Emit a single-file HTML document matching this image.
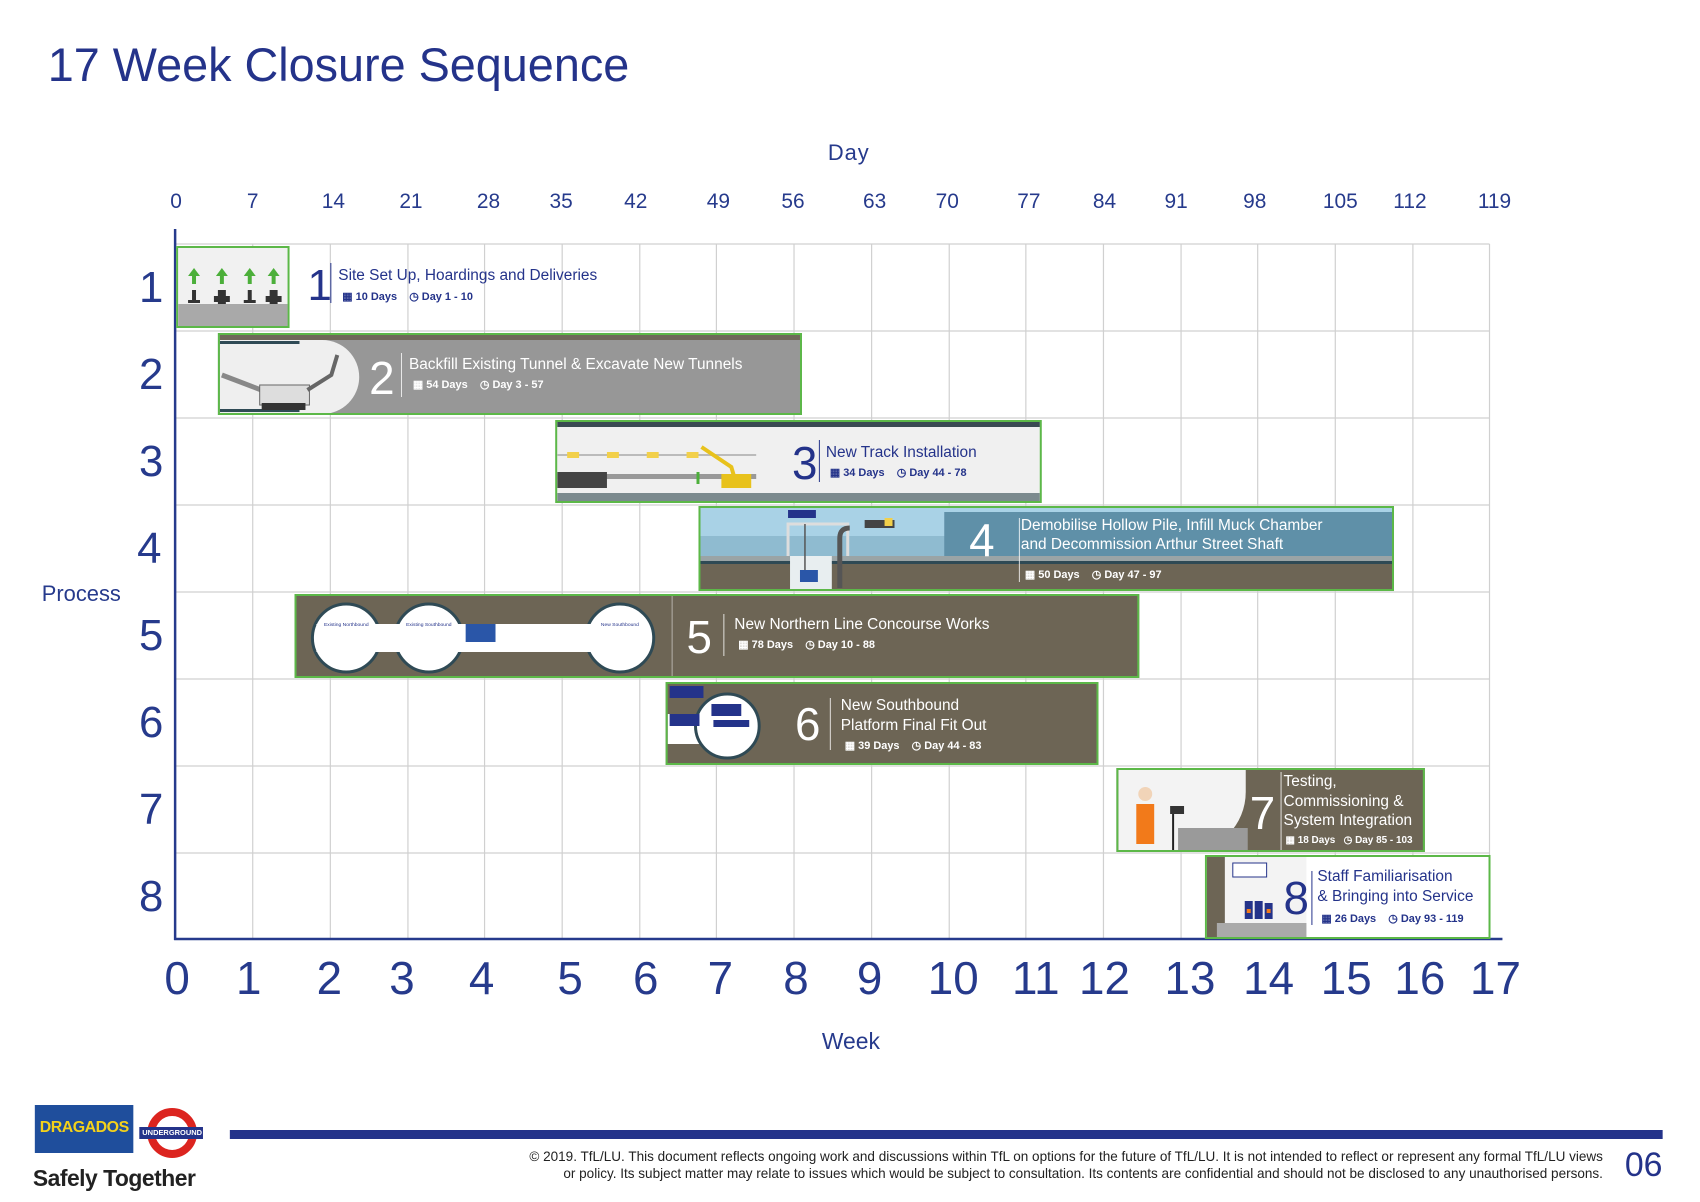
<!DOCTYPE html>
<html><head><meta charset="utf-8">
<style>
html,body{margin:0;padding:0;background:#fff;}
body{width:1700px;height:1202px;position:relative;overflow:hidden;font-family:"Liberation Sans",sans-serif;}
#w{position:absolute;left:0;top:0;width:1700px;height:1202px;transform:scaleX(0.995);transform-origin:0 0;}
.a{position:absolute;}
.t{position:absolute;white-space:nowrap;}
.bar{position:absolute;border:2px solid #5cb848;box-sizing:border-box;overflow:hidden;}
.num{position:absolute;color:#fff;font-size:46px;line-height:46px;}
.ttl{position:absolute;color:#fff;font-size:15.5px;line-height:20px;white-space:nowrap;}
.det{position:absolute;color:#fff;font-size:11px;white-space:nowrap;font-weight:bold;}
.sep{position:absolute;width:1px;background:rgba(255,255,255,.8);}
.lbl{position:absolute;color:#263a8c;text-align:center;transform:translateX(-50%);}
</style></head><body><div id="w">
<div class="t" style="left:48px;top:37px;font-size:47px;color:#24338a;">17 Week Closure Sequence</div>
<div class="t" style="left:832px;top:140px;font-size:22px;color:#263a8c;letter-spacing:1px;">Day</div>

<svg class="a" style="left:0;top:0" width="1700" height="1202">
<g stroke="#d0d0d0" stroke-width="1.2">
<line x1="177" y1="244" x2="1497" y2="244"/><line x1="177" y1="331" x2="1497" y2="331"/><line x1="177" y1="418" x2="1497" y2="418"/><line x1="177" y1="505" x2="1497" y2="505"/><line x1="177" y1="592" x2="1497" y2="592"/><line x1="177" y1="679" x2="1497" y2="679"/><line x1="177" y1="766" x2="1497" y2="766"/><line x1="177" y1="853" x2="1497" y2="853"/>
<line x1="254" y1="244" x2="254" y2="939"/><line x1="332" y1="244" x2="332" y2="939"/><line x1="410" y1="244" x2="410" y2="939"/><line x1="487" y1="244" x2="487" y2="939"/><line x1="565" y1="244" x2="565" y2="939"/><line x1="643" y1="244" x2="643" y2="939"/><line x1="720" y1="244" x2="720" y2="939"/><line x1="798" y1="244" x2="798" y2="939"/><line x1="876" y1="244" x2="876" y2="939"/><line x1="954" y1="244" x2="954" y2="939"/><line x1="1031" y1="244" x2="1031" y2="939"/><line x1="1109" y1="244" x2="1109" y2="939"/><line x1="1187" y1="244" x2="1187" y2="939"/><line x1="1264" y1="244" x2="1264" y2="939"/><line x1="1342" y1="244" x2="1342" y2="939"/><line x1="1420" y1="244" x2="1420" y2="939"/><line x1="1497" y1="244" x2="1497" y2="939"/>
</g>
<line x1="176" y1="229" x2="176" y2="940" stroke="#263a8c" stroke-width="2.5"/>
<line x1="175" y1="939" x2="1510" y2="939" stroke="#263a8c" stroke-width="2.5"/>
<rect x="231" y="1130" width="1440" height="9" fill="#24338a"/>
</svg>

<div class="lbl" style="left:177px;top:190px;font-size:21px;">0</div>
<div class="lbl" style="left:254px;top:190px;font-size:21px;">7</div>
<div class="lbl" style="left:335px;top:190px;font-size:21px;">14</div>
<div class="lbl" style="left:413px;top:190px;font-size:21px;">21</div>
<div class="lbl" style="left:491px;top:190px;font-size:21px;">28</div>
<div class="lbl" style="left:564px;top:190px;font-size:21px;">35</div>
<div class="lbl" style="left:639px;top:190px;font-size:21px;">42</div>
<div class="lbl" style="left:722px;top:190px;font-size:21px;">49</div>
<div class="lbl" style="left:797px;top:190px;font-size:21px;">56</div>
<div class="lbl" style="left:879px;top:190px;font-size:21px;">63</div>
<div class="lbl" style="left:952px;top:190px;font-size:21px;">70</div>
<div class="lbl" style="left:1034px;top:190px;font-size:21px;">77</div>
<div class="lbl" style="left:1110px;top:190px;font-size:21px;">84</div>
<div class="lbl" style="left:1182px;top:190px;font-size:21px;">91</div>
<div class="lbl" style="left:1261px;top:190px;font-size:21px;">98</div>
<div class="lbl" style="left:1347px;top:190px;font-size:21px;">105</div>
<div class="lbl" style="left:1417px;top:190px;font-size:21px;">112</div>
<div class="lbl" style="left:1502px;top:190px;font-size:21px;">119</div>

<div class="lbl" style="left:178px;top:951px;font-size:46px;">0</div>
<div class="lbl" style="left:250px;top:951px;font-size:46px;">1</div>
<div class="lbl" style="left:331px;top:951px;font-size:46px;">2</div>
<div class="lbl" style="left:404px;top:951px;font-size:46px;">3</div>
<div class="lbl" style="left:484px;top:951px;font-size:46px;">4</div>
<div class="lbl" style="left:573px;top:951px;font-size:46px;">5</div>
<div class="lbl" style="left:649px;top:951px;font-size:46px;">6</div>
<div class="lbl" style="left:724px;top:951px;font-size:46px;">7</div>
<div class="lbl" style="left:800px;top:951px;font-size:46px;">8</div>
<div class="lbl" style="left:874px;top:951px;font-size:46px;">9</div>
<div class="lbl" style="left:958px;top:951px;font-size:46px;">10</div>
<div class="lbl" style="left:1041px;top:951px;font-size:46px;">11</div>
<div class="lbl" style="left:1110px;top:951px;font-size:46px;">12</div>
<div class="lbl" style="left:1196px;top:951px;font-size:46px;">13</div>
<div class="lbl" style="left:1275px;top:951px;font-size:46px;">14</div>
<div class="lbl" style="left:1353px;top:951px;font-size:46px;">15</div>
<div class="lbl" style="left:1427px;top:951px;font-size:46px;">16</div>
<div class="lbl" style="left:1503px;top:951px;font-size:46px;">17</div>
<div class="t" style="left:826px;top:1028px;font-size:23px;color:#263a8c;">Week</div>

<div class="lbl" style="left:152px;top:263px;font-size:44px;">1</div>
<div class="lbl" style="left:152px;top:350px;font-size:44px;">2</div>
<div class="lbl" style="left:152px;top:437px;font-size:44px;">3</div>
<div class="lbl" style="left:150px;top:524px;font-size:44px;">4</div>
<div class="lbl" style="left:152px;top:611px;font-size:44px;">5</div>
<div class="lbl" style="left:152px;top:698px;font-size:44px;">6</div>
<div class="lbl" style="left:152px;top:785px;font-size:44px;">7</div>
<div class="lbl" style="left:152px;top:872px;font-size:44px;">8</div>
<div class="t" style="left:42px;top:581px;font-size:22px;color:#263a8c;">Process</div>

<div class="bar" style="left:177px;top:246px;width:114px;height:82px;background:#f1f1f1;">
 <div class="a" style="left:0;top:56px;width:114px;height:24px;background:#a9a9a9;"></div>
 <svg class="a" style="left:0;top:0" width="112" height="80">
  <g fill="#4caf3a"><polygon points="16,20 22,28 10,28"/><rect x="14" y="28" width="4" height="8"/><polygon points="44,20 50,28 38,28"/><rect x="42" y="28" width="4" height="8"/><polygon points="72,20 78,28 66,28"/><rect x="70" y="28" width="4" height="8"/><polygon points="96,20 102,28 90,28"/><rect x="94" y="28" width="4" height="8"/></g>
  <g fill="#333"><rect x="14" y="42" width="4" height="12"/><rect x="10" y="52" width="12" height="3"/><rect x="40" y="42" width="8" height="14"/><rect x="36" y="48" width="16" height="6"/><rect x="70" y="42" width="4" height="12"/><rect x="66" y="52" width="12" height="3"/><rect x="92" y="42" width="8" height="14"/><rect x="88" y="48" width="16" height="6"/></g>
 </svg>
</div>
<div class="t" style="left:309px;top:264px;font-size:44px;color:#24338a;line-height:44px;">1</div>
<div class="a" style="left:332px;top:263px;width:1px;height:40px;background:#24338a;"></div>
<div class="t" style="left:340px;top:267px;font-size:15.5px;color:#24338a;">Site Set Up, Hoardings and Deliveries</div>
<div class="t" style="left:344px;top:290px;font-size:11px;color:#24338a;font-weight:bold;">▦ 10 Days &nbsp;&nbsp; ◷ Day 1 - 10</div>

<div class="bar" style="left:219px;top:333px;width:587px;height:82px;background:#979797;">
 <div class="a" style="left:0;top:0;width:587px;height:5px;background:#6f6859;"></div>
 <div class="a" style="left:0;top:5px;width:140px;height:74px;background:#efefef;border-radius:0 40px 40px 0;"></div>
 <svg class="a" style="left:0;top:0" width="160" height="80">
  <rect x="0" y="6" width="80" height="3" fill="#2f4a55"/><rect x="0" y="74" width="80" height="3" fill="#2f4a55"/>
  <line x1="2" y1="40" x2="60" y2="62" stroke="#888" stroke-width="5"/>
  <rect x="40" y="50" width="50" height="20" fill="#ddd" stroke="#666"/>
  <rect x="42" y="68" width="44" height="7" fill="#333"/>
  <polyline points="88,55 112,40 118,20" fill="none" stroke="#666" stroke-width="4"/>
 </svg>
 <div class="num" style="left:150px;top:20px;">2</div>
 <div class="sep" style="left:182px;top:18px;height:44px;"></div>
 <div class="ttl" style="left:190px;top:20px;">Backfill Existing Tunnel &amp; Excavate New Tunnels</div>
 <div class="det" style="left:194px;top:43px;">▦ 54 Days &nbsp;&nbsp; ◷ Day 3 - 57</div>
</div>

<div class="bar" style="left:558px;top:420px;width:489px;height:83px;background:#f0f0f0;">
 <div class="a" style="left:0;top:0;width:489px;height:5px;background:#3a4a52;"></div>
 <div class="a" style="left:0;top:71px;width:489px;height:10px;background:#7c8a8e;"></div>
 <svg class="a" style="left:0;top:0" width="220" height="80">
  <line x1="0" y1="33" x2="200" y2="33" stroke="#bbb" stroke-width="2"/>
  <g fill="#f2d04a"><rect x="10" y="30" width="12" height="6"/><rect x="50" y="30" width="12" height="6"/><rect x="90" y="30" width="12" height="6"/><rect x="130" y="30" width="12" height="6"/></g>
  <rect x="0" y="52" width="200" height="5" fill="#999"/>
  <rect x="0" y="50" width="50" height="16" fill="#444"/>
  <polyline points="145,25 175,45 180,62" fill="none" stroke="#e8c21c" stroke-width="4"/>
  <rect x="165" y="52" width="30" height="14" fill="#e8c21c"/>
  <rect x="140" y="50" width="3" height="12" fill="#4caf3a"/>
 </svg>
 <div class="num" style="left:236px;top:18px;color:#24338a;">3</div>
 <div class="sep" style="left:263px;top:18px;height:42px;background:#24338a;"></div>
 <div class="ttl" style="left:270px;top:21px;color:#24338a;">New Track Installation</div>
 <div class="det" style="left:274px;top:44px;color:#24338a;">▦ 34 Days &nbsp;&nbsp; ◷ Day 44 - 78</div>
</div>

<div class="bar" style="left:702px;top:506px;width:699px;height:85px;background:#6d6555;">
 <div class="a" style="left:0;top:0;width:699px;height:48px;background:#a9d2e6;"></div>
 <div class="a" style="left:0;top:28px;width:699px;height:20px;background:#8fbbd0;"></div>
 <div class="a" style="left:245px;top:4px;width:452px;height:46px;background:#5f90a8;"></div>
 <div class="a" style="left:0;top:48px;width:699px;height:5px;background:#9aa4a6;"></div>
 <div class="a" style="left:0;top:53px;width:699px;height:3px;background:#2f4a55;"></div>
 <div class="a" style="left:90px;top:48px;width:42px;height:35px;background:#e8eef0;"></div>
 <svg class="a" style="left:0;top:0" width="240" height="85">
  <rect x="88" y="2" width="28" height="8" fill="#24338a"/>
  <polyline points="88,48 88,16 148,16 148,48" fill="none" stroke="#ddd" stroke-width="3"/>
  <line x1="105" y1="16" x2="105" y2="70" stroke="#555" stroke-width="1.5"/>
  <path d="M140 80 L140 30 Q140 20 150 20" fill="none" stroke="#555" stroke-width="5"/>
  <rect x="165" y="12" width="30" height="8" fill="#444"/><rect x="185" y="10" width="8" height="8" fill="#f2d04a"/>
  <rect x="100" y="62" width="18" height="12" fill="#2a56a8"/>
 </svg>
 <div class="num" style="left:270px;top:9px;">4</div>
 <div class="sep" style="left:320px;top:10px;height:64px;"></div>
 <div class="ttl" style="left:322px;top:8px;line-height:19px;">Demobilise Hollow Pile, Infill Muck Chamber<br>and Decommission Arthur Street Shaft</div>
 <div class="det" style="left:326px;top:60px;">▦ 50 Days &nbsp;&nbsp; ◷ Day 47 - 97</div>
</div>

<div class="bar" style="left:296px;top:594px;width:849px;height:84px;background:#6d6555;">
 <svg class="a" style="left:0;top:0" width="380" height="82">
  <rect x="34" y="28" width="300" height="28" fill="#fff"/>
  <circle cx="50" cy="42" r="34" fill="#fff" stroke="#2f4a55" stroke-width="3"/>
  <circle cx="133" cy="42" r="34" fill="#fff" stroke="#2f4a55" stroke-width="3"/>
  <circle cx="325" cy="42" r="34" fill="#fff" stroke="#2f4a55" stroke-width="3"/>
  <rect x="20" y="28" width="330" height="28" fill="#fff"/>
  <rect x="170" y="28" width="30" height="18" fill="#2a56a8"/>
  <text x="50" y="30" font-size="5" font-family="Liberation Sans" fill="#24338a" text-anchor="middle">Existing Northbound</text>
  <text x="133" y="30" font-size="5" font-family="Liberation Sans" fill="#24338a" text-anchor="middle">Existing Southbound</text>
  <text x="325" y="30" font-size="5" font-family="Liberation Sans" fill="#24338a" text-anchor="middle">New Southbound</text>
 </svg>
 <div class="sep" style="left:377px;top:0;height:82px;background:rgba(255,255,255,.5);"></div>
 <div class="num" style="left:392px;top:18px;">5</div>
 <div class="sep" style="left:429px;top:18px;height:42px;"></div>
 <div class="ttl" style="left:440px;top:19px;">New Northern Line Concourse Works</div>
 <div class="det" style="left:444px;top:42px;">▦ 78 Days &nbsp;&nbsp; ◷ Day 10 - 88</div>
</div>

<div class="bar" style="left:669px;top:682px;width:435px;height:83px;background:#6d6555;">
 <svg class="a" style="left:0;top:0" width="100" height="80">
  <rect x="0" y="30" width="60" height="30" fill="#fff"/>
  <circle cx="60" cy="42" r="32" fill="#fff" stroke="#2f4a55" stroke-width="3"/>
  <rect x="2" y="2" width="34" height="12" fill="#24338a"/><rect x="44" y="20" width="30" height="12" fill="#24338a"/><rect x="2" y="30" width="30" height="12" fill="#24338a"/><rect x="46" y="36" width="36" height="7" fill="#24338a"/>
 </svg>
 <div class="num" style="left:128px;top:17px;">6</div>
 <div class="sep" style="left:163px;top:14px;height:52px;"></div>
 <div class="ttl" style="left:174px;top:12px;line-height:20px;">New Southbound<br>Platform Final Fit Out</div>
 <div class="det" style="left:178px;top:55px;">▦ 39 Days &nbsp;&nbsp; ◷ Day 44 - 83</div>
</div>

<div class="bar" style="left:1122px;top:768px;width:310px;height:84px;background:#6d6555;">
 <div class="a" style="left:0;top:0;width:128px;height:82px;background:#f3f3f3;border-radius:0 0 60px 0;"></div>
 <div class="a" style="left:60px;top:58px;width:70px;height:24px;background:#9a9a9a;"></div>
 <svg class="a" style="left:0;top:0" width="140" height="82">
  <circle cx="27" cy="24" r="7" fill="#f1d4b8"/><rect x="18" y="34" width="18" height="40" fill="#f27a1a"/>
  <line x1="55" y1="40" x2="55" y2="82" stroke="#222" stroke-width="2"/><rect x="52" y="36" width="14" height="8" fill="#333"/>
 </svg>
 <div class="num" style="left:132px;top:20px;">7</div>
 <div class="sep" style="left:163px;top:2px;height:78px;"></div>
 <div class="ttl" style="left:166px;top:2px;line-height:19.5px;">Testing,<br>Commissioning &amp;<br>System Integration</div>
 <div class="det" style="left:168px;top:65px;font-size:10px;">▦ 18 Days &nbsp; ◷ Day 85 - 103</div>
</div>

<div class="bar" style="left:1211px;top:855px;width:287px;height:84px;background:#fff;">
 <div class="a" style="left:0;top:0;width:100px;height:82px;background:#f3f3f3;"></div>
 <div class="a" style="left:0;top:0;width:18px;height:82px;background:#6d6555;"></div>
 <div class="a" style="left:10px;top:66px;width:90px;height:16px;background:#aaa;"></div>
 <svg class="a" style="left:0;top:0" width="100" height="82">
  <rect x="26" y="6" width="34" height="14" fill="#fff" stroke="#24338a"/>
  <g fill="#24338a"><rect x="38" y="44" width="8" height="18"/><rect x="48" y="44" width="8" height="18"/><rect x="58" y="46" width="8" height="16"/></g>
  <g fill="#f27a1a"><rect x="40" y="52" width="4" height="4"/><rect x="60" y="52" width="4" height="4"/></g>
 </svg>
 <div class="num" style="left:77px;top:18px;color:#24338a;">8</div>
 <div class="sep" style="left:105px;top:14px;height:54px;background:#24338a;"></div>
 <div class="ttl" style="left:111px;top:10px;color:#24338a;line-height:20px;">Staff Familiarisation<br>&amp; Bringing into Service</div>
 <div class="det" style="left:115px;top:55px;color:#24338a;">▦ 26 Days &nbsp;&nbsp; ◷ Day 93 - 119</div>
</div>

<div class="a" style="left:35px;top:1105px;width:99px;height:48px;background:#1f4e9c;"></div>
<div class="t" style="left:40px;top:1119px;font-size:16px;font-weight:bold;color:#f4d11a;letter-spacing:-0.5px;">DRAGADOS</div>
<div class="a" style="left:148px;top:1108px;width:34px;height:34px;border:8px solid #dc241f;border-radius:50%;"></div>
<div class="a" style="left:140px;top:1127px;width:64px;height:12px;background:#24338a;"></div>
<div class="t" style="left:143px;top:1128px;font-size:7.5px;color:#fff;font-weight:bold;">UNDERGROUND</div>
<div class="t" style="left:33px;top:1165px;font-size:23px;color:#222;font-weight:bold;letter-spacing:-0.5px;">Safely Together</div>
<div class="t" style="left:300px;top:1148px;width:1311px;text-align:right;font-size:13.6px;line-height:17px;color:#222;">© 2019. TfL/LU. This document reflects ongoing work and discussions within TfL on options for the future of TfL/LU. It is not intended to reflect or represent any formal TfL/LU views<br>or policy. Its subject matter may relate to issues which would be subject to consultation. Its contents are confidential and should not be disclosed to any unauthorised persons.</div>
<div class="t" style="left:1633px;top:1146px;font-size:34px;color:#24338a;">06</div>
</div></body></html>
